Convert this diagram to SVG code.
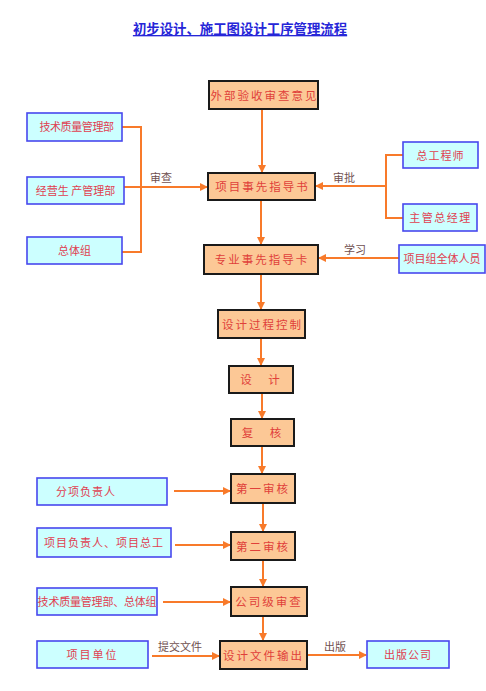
<svg xmlns="http://www.w3.org/2000/svg" width="486" height="691" viewBox="0 0 486 691">
<defs>
<marker id="ah" markerWidth="8" markerHeight="8" refX="7" refY="4" orient="auto" markerUnits="userSpaceOnUse">
<path d="M0,0 L8,4 L0,8 Z" fill="#f87a2a"/>
</marker>
<style>
.ob{fill:#fcc896;stroke:#1a1a1a;stroke-width:2}
.bb{fill:#ccffff;stroke:#4848ee;stroke-width:1.6}
.ot{font-family:"Liberation Serif","Noto Sans CJK SC",serif;font-size:11.5px;fill:#e0403a;text-anchor:middle;letter-spacing:2px}
.bt{font-family:"Noto Sans CJK SC",sans-serif;font-size:11px;fill:#e04050;text-anchor:middle}
.lb{font-family:"Noto Sans CJK SC",sans-serif;font-size:11px;fill:#705050;text-anchor:middle}
.c{stroke:#f87a2a;stroke-width:2;fill:none}
.ca{stroke:#f87a2a;stroke-width:2;fill:none;marker-end:url(#ah)}
</style>
</defs>
<rect width="486" height="691" fill="#ffffff"/>
<text x="240" y="34" font-family="Noto Sans CJK SC,sans-serif" font-size="13.4" font-weight="bold" fill="#2626d8" text-anchor="middle" text-decoration="underline">初步设计、施工图设计工序管理流程</text>

<g id="connectors">
<path class="ca" d="M262,109 V172"/>
<path class="c" d="M122,127 H141 V252 H122"/>
<path class="ca" d="M124,187 H207"/>
<path class="c" d="M403,155 H386 V218 H403"/>
<path class="ca" d="M386,186 H316"/>
<path class="ca" d="M261,200 V244"/>
<path class="ca" d="M399,258 H319"/>
<path class="ca" d="M261,274 V309"/>
<path class="ca" d="M261,338 V365"/>
<path class="ca" d="M262,393 V418"/>
<path class="ca" d="M262,446 V473"/>
<path class="ca" d="M174,491 H230"/>
<path class="ca" d="M263,503 V531"/>
<path class="ca" d="M175,545 H230"/>
<path class="ca" d="M263,560 V586"/>
<path class="ca" d="M163,602 H230"/>
<path class="ca" d="M263,616 V640"/>
<path class="ca" d="M152,656 H219"/>
<path class="ca" d="M307,655 H366"/>
<text class="lb" x="161" y="182">审查</text>
<text class="lb" x="344" y="182">审批</text>
<text class="lb" x="355" y="254">学习</text>
<text class="lb" x="180" y="651">提交文件</text>
<text class="lb" x="335" y="651">出版</text>
</g>

<g id="n1"><rect class="ob" x="209" y="81" width="109" height="28"/><text class="ot" x="264.5" y="99.5">外部验收审查意见</text></g>
<g id="n2"><rect class="bb" x="27" y="113" width="95" height="28"/><text class="bt" x="76.5" y="131" font-size="10" letter-spacing="-0.4">技术质量管理部</text></g>
<g id="n3"><rect class="bb" x="27" y="177" width="97" height="27"/><text class="bt" x="75.5" y="194.5" font-size="10.5">经营生 产管理部</text></g>
<g id="n4"><rect class="bb" x="27" y="237" width="95" height="27"/><text class="bt" x="74.5" y="254.5">总体组</text></g>
<g id="n5"><rect class="ob" x="208" y="173" width="107" height="27"/><text class="ot" x="262.5" y="191">项目事先指导书</text></g>
<g id="n6"><rect class="bb" x="403" y="142" width="75" height="26"/><text class="bt" x="440.5" y="159.5" letter-spacing="1">总工程师</text></g>
<g id="n7"><rect class="bb" x="403" y="204" width="74" height="27"/><text class="bt" x="440.5" y="221.5" letter-spacing="1.5">主管总经理</text></g>
<g id="n8"><rect class="ob" x="204" y="245" width="114" height="29"/><text class="ot" x="262" y="263.5">专业事先指导卡</text></g>
<g id="n9"><rect class="bb" x="399" y="245" width="86" height="28"/><text class="bt" x="442" y="263" font-size="10.5">项目组全体人员</text></g>
<g id="n10"><rect class="ob" x="218" y="310" width="87" height="28"/><text class="ot" x="262.5" y="328.5">设计过程控制</text></g>
<g id="n11"><rect class="ob" x="229" y="366" width="64" height="27"/><text class="ot" x="261" y="384" xml:space="preserve">设   计</text></g>
<g id="n12"><rect class="ob" x="231" y="419" width="63" height="27"/><text class="ot" x="262.5" y="437" xml:space="preserve">复   核</text></g>
<g id="n13"><rect class="bb" x="37" y="478" width="130" height="27"/><text class="bt" x="86" y="496" letter-spacing="1">分项负责人</text></g>
<g id="n14"><rect class="ob" x="231" y="474" width="64" height="29"/><text class="ot" x="263" y="492.5">第一审核</text></g>
<g id="n15"><rect class="bb" x="37" y="528" width="134" height="29"/><text class="bt" x="104" y="547" letter-spacing="1">项目负责人、项目总工</text></g>
<g id="n16"><rect class="ob" x="231" y="532" width="64" height="28"/><text class="ot" x="263" y="550.5">第二审核</text></g>
<g id="n17"><rect class="bb" x="37" y="588" width="120" height="27"/><text class="bt" x="97" y="606" font-size="10" letter-spacing="-0.2">技术质量管理部、总体组</text></g>
<g id="n18"><rect class="ob" x="231" y="587" width="76" height="29"/><text class="ot" x="269" y="605.5">公司级审查</text></g>
<g id="n19"><rect class="bb" x="37" y="641" width="111" height="27"/><text class="bt" x="92.5" y="659" letter-spacing="2">项目单位</text></g>
<g id="n20"><rect class="ob" x="220" y="641" width="87" height="28"/><text class="ot" x="263.5" y="659.5">设计文件输出</text></g>
<g id="n21"><rect class="bb" x="367" y="641" width="82" height="27"/><text class="bt" x="408" y="659" letter-spacing="1">出版公司</text></g>
</svg>
